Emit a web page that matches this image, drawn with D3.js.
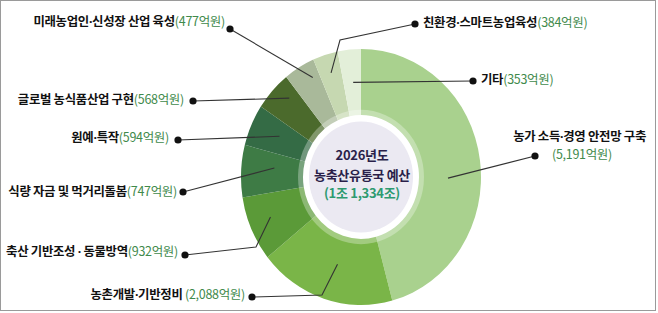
<!DOCTYPE html>
<html>
<head>
<meta charset="utf-8">
<script src="https://cdn.jsdelivr.net/npm/d3@7"></script>
<style>
  html, body { margin: 0; padding: 0; background: #fff; }
  svg text { font-family: "Noto Sans CJK KR", "Noto Sans", sans-serif; }
  .dot { font-family: "Noto Sans", sans-serif; }
</style>
</head>
<body>
<div id="chart"></div>
<script>
// budget items, clockwise from 12 o'clock
const names = ["농가 소득·경영 안전망 구축", "농촌개발·기반정비 ", "축산 기반조성 · 동물방역", "식량 자금 및 먹거리돌봄",
    "원예·특작", "글로벌 농식품산업 구현", "미래농업인·신성장 산업 육성", "친환경·스마트농업육성", "기타"];
const values = [5191, 2088, 932, 747, 594, 568, 477, 384, 353]; // 억원
const colors = ["#a9d18e", "#7ab548", "#5b9a38", "#3e7b45", "#346b45", "#4b6a2c", "#a9b99a", "#c6d8b1", "#e3efd9"];
const centerLines = ["2026년도", "농축산유통국 예산", "(1조 1,334조)"];

const width = 658, height = 313;
const cx = 361, cy = 177, rOuter = 120, rInner = 58, sy = 1.067;

// where each leader line leaves the slice (fraction of slice, radius) and where the label sits
const layout = [
    { at: 0.55, r: 87, dot: [535, 156], tx: 646, ty: 137, anchor: "end", vx: 552, vy: 155 },
    { at: 0.47, r: 85, elbow: [322, 295], dot: [252, 297], tx: 245, ty: 295, anchor: "end" },
    { at: 0.55, r: 98, elbow: [256, 247], dot: [185, 255], tx: 178, ty: 252, anchor: "end" },
    { at: 0.62, r: 87, dot: [183, 192], tx: 177, ty: 192, anchor: "end" },
    { at: 0.56, r: 90, dot: [178, 140], tx: 169, ty: 138, anchor: "end" },
    { at: 0.69, r: 103, dot: [193, 101], tx: 184, ty: 100, anchor: "end" },
    { at: 0.74, r: 105, dot: [230, 29], tx: 225, ty: 22, anchor: "end" },
    { at: 0.52, r: 102, elbow: [340, 40], dot: [415, 24], tx: 423, ty: 23, anchor: "start" },
    { at: 0.55, r: 89, dot: [473, 81], tx: 481, ty: 80, anchor: "start" }
];

const fmt = d3.format(",");

const svg = d3.select("#chart")
    .append("svg")
    .attr("width", width)
    .attr("height", height)
;

// frame
svg.append("rect")
    .attr("x", 0.5).attr("y", 0.5)
    .attr("width", 655).attr("height", 310)
    .style("fill", "#fff")
    .style("stroke", "#9a9a9a")
;

const pie = d3.pie().sort(null).value(d => d);
const arcs = pie(values);
const arc = d3.arc().innerRadius(rInner).outerRadius(rOuter);

const g = svg.append("g")
    .attr("transform", `translate(${cx},${cy}) scale(1,${sy})`);

g.selectAll("path.slice")
    .data(arcs)
    .enter()
    .append("path")
    .attr("class", "slice")
    .attr("d", arc)
    .style("fill", (d, i) => colors[i])
;

// halo + centre disc
g.append("circle").attr("r", 63).style("fill", "#fff").style("opacity", 0.3);
g.append("circle").attr("r", 56).style("fill", "#fff").style("opacity", 0.35);
g.append("circle").attr("r", 52).style("fill", "#ebe9f2");

// leader lines
const lines = svg.append("g");
arcs.forEach((a, i) => {
    const L = layout[i];
    const th = a.startAngle + L.at * (a.endAngle - a.startAngle);
    const p0 = [cx + L.r * Math.sin(th), cy - L.r * Math.cos(th) * sy];
    const pts = [p0];
    if (L.elbow) pts.push(L.elbow);
    pts.push(L.dot);

    lines.append("path")
        .attr("d", d3.line()(pts))
        .style("fill", "none")
        .style("stroke", "#333")
        .style("stroke-width", 1.1)
    ;
    lines.append("circle")
        .attr("cx", L.dot[0]).attr("cy", L.dot[1])
        .attr("r", 3.6)
        .style("fill", "#111")
    ;
});

// name text, with a narrow middle dot
function addName(sel, s) {
    s.split("·").forEach((part, k) => {
        if (k > 0) sel.append("tspan").attr("class", "dot").text("·");
        sel.append("tspan").text(part);
    });
}

// labels
const labels = svg.append("g")
    .style("font-size", "12.4px")
    .style("letter-spacing", "-0.3px")
;
values.forEach((v, i) => {
    const L = layout[i];
    const valText = "(" + fmt(v) + "억원)";
    if (L.vx !== undefined) {
        // two-line label
        const n = labels.append("text")
            .attr("x", L.tx).attr("y", L.ty + 4)
            .attr("text-anchor", L.anchor)
            .style("font-weight", 700)
            .style("fill", "#111");
        addName(n, names[i]);
        labels.append("text")
            .attr("x", L.vx).attr("y", L.vy + 4)
            .style("fill", "#3f8a4c")
            .style("font-size", "12.5px")
            .text(valText);
        return;
    }
    const t = labels.append("text")
        .attr("x", L.tx).attr("y", L.ty + 4)
        .attr("text-anchor", L.anchor);
    const n = t.append("tspan")
        .style("font-weight", 700)
        .style("fill", "#111");
    addName(n, names[i]);
    t.append("tspan")
        .style("fill", "#3f8a4c")
        .style("font-size", "12.5px")
        .text(valText);
});

// centre text
const ct = svg.append("g")
    .attr("text-anchor", "middle")
    .style("font-size", "13px")
    .style("font-weight", 700)
    .style("letter-spacing", "-0.3px")
;
ct.append("text").attr("x", cx + 1).attr("y", 160).style("fill", "#2a1f4a").text(centerLines[0]);
ct.append("text").attr("x", cx + 1).attr("y", 180).style("fill", "#2a1f4a").text(centerLines[1]);
ct.append("text").attr("x", cx + 1).attr("y", 198).style("fill", "#2e9a70").text(centerLines[2]);
</script>
</body>
</html>
